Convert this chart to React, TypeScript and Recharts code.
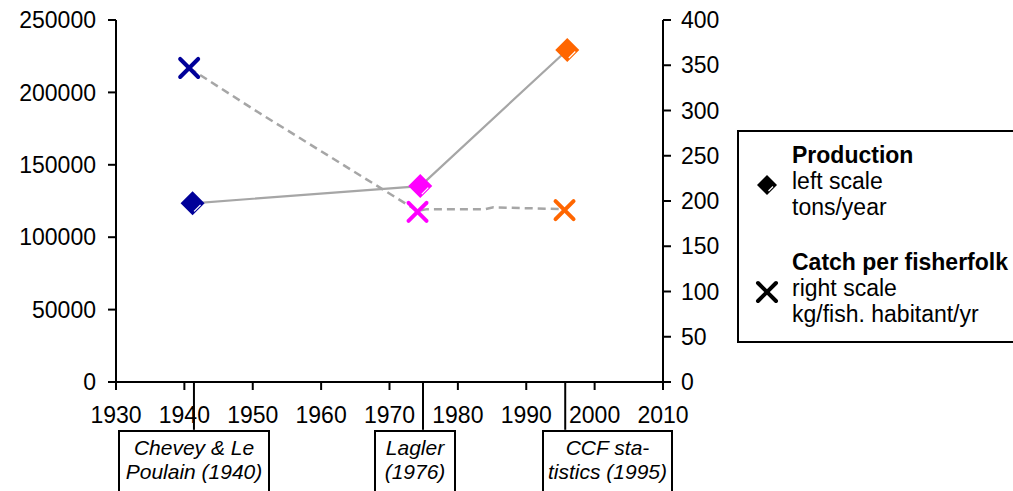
import { LineChart, Line, XAxis, YAxis, ReferenceLine } from 'recharts';

// x axis (years)
const yearTicks = [1930, 1940, 1950, 1960, 1970, 1980, 1990, 2000, 2010];
const leftTicks = [0, 50000, 100000, 150000, 200000, 250000];
const rightTicks = [0, 50, 100, 150, 200, 250, 300, 350, 400];

// Production (left scale, tons/year) - one point per source
const productionYears = [1941.2, 1974.5, 1996.0];
const productionTons = [123400, 135300, 229300];

// Catch per fisherfolk (right scale, kg/fish. habitant/yr)
const catchYears = [1940.7, 1974.1, 1995.6];
const catchKg = [347, 188, 190];

// dashed connecting line for catch, as drawn in the source figure
const trendYears = [1940.7, 1950.8, 1960, 1974.1, 1975.5, 1984, 1985.2, 1995.6];
const trendKg = [347, 298, 255, 189, 191, 191, 193, 191];

const pointColors = ['#000099', '#FF00FF', '#FF6600'];

// sources shown under the x axis
const sourceYears = [1941.4, 1974.9, 1995.7];
const sourceLabels = [
  ['Chevey & Le', 'Poulain (1940)'],
  ['Lagler', '(1976)'],
  ['CCF sta-', 'tistics (1995)'],
];

const legendItems = [
  { title: 'Production', lines: ['left scale', 'tons/year'], marker: 'diamond' },
  { title: 'Catch per fisherfolk', lines: ['right scale', 'kg/fish. habitant/yr'], marker: 'cross' },
];

const productionData = productionYears.map((year, i) => ({ year, tons: productionTons[i] }));
const catchData = catchYears.map((year, i) => ({ year, kg: catchKg[i] }));
const trendData = trendYears.map((year, i) => ({ year, kg: trendKg[i] }));

const FONT = '"Liberation Sans", Arial, sans-serif';
const LINE_GREY = '#a6a6a6';

const Diamond = ({ cx, cy, fill, r = 12 }: { cx: number; cy: number; fill: string; r?: number }) => (
  <g>
    <polygon points={`${cx},${cy - r} ${cx + r},${cy} ${cx},${cy + r} ${cx - r},${cy}`} fill={fill} />
    <line x1={cx + 1.5} y1={cy + r - 4} x2={cx + r - 4} y2={cy + 1.5} stroke="#fff" strokeWidth={1.2} />
  </g>
);

const Cross = ({ cx, cy, stroke }: { cx: number; cy: number; stroke: string }) => (
  <g stroke={stroke} strokeWidth={4} strokeLinecap="round">
    <line x1={cx - 9} y1={cy - 9} x2={cx + 9} y2={cy + 9} />
    <line x1={cx - 9} y1={cy + 9} x2={cx + 9} y2={cy - 9} />
  </g>
);

const LegendBox = () => (
  <div
    style={{
      position: 'absolute',
      left: 737,
      top: 130,
      border: '2px solid #000',
      width: 320,
      height: 213,
      boxSizing: 'border-box',
      fontFamily: FONT,
      fontSize: 23,
      color: '#000',
      paddingTop: 10,
      background: '#fff',
    }}
  >
    {legendItems.map((item, i) => (
      <div key={item.title} style={{ position: 'relative', paddingLeft: 53, marginBottom: i === 0 ? 29 : 0, lineHeight: '26px' }}>
        <svg width={30} height={30} style={{ position: 'absolute', left: 13, top: 28 }}>
          {item.marker === 'diamond' ? (
            <Diamond cx={15} cy={15} fill="#000" r={10} />
          ) : (
            <Cross cx={15} cy={15} stroke="#000" />
          )}
        </svg>
        <div style={{ fontWeight: 'bold' }}>{item.title}</div>
        {item.lines.map((l) => (
          <div key={l}>{l}</div>
        ))}
      </div>
    ))}
  </div>
);

export default function App() {
  return (
    <div
      style={{
        position: 'absolute',
        left: 0,
        top: 0,
        width: 1013,
        height: 491,
        overflow: 'hidden',
        background: '#fff',
        fontFamily: FONT,
      }}
    >
      <LineChart width={1013} height={491} margin={{ top: 20, right: 290, bottom: 0, left: 0 }}>
        <XAxis
          dataKey="year"
          type="number"
          domain={[1930, 2010]}
          ticks={yearTicks}
          allowDuplicatedCategory={false}
          height={109}
          tickSize={8}
          tickMargin={17}
          axisLine={{ stroke: '#000', strokeWidth: 2 }}
          tickLine={{ stroke: '#000', strokeWidth: 2 }}
          tick={{ fill: '#000', fontSize: 23, fontFamily: FONT }}
          interval={0}
        />
        <YAxis
          yAxisId="left"
          orientation="left"
          width={116}
          domain={[0, 250000]}
          ticks={leftTicks}
          tickSize={8}
          tickMargin={12}
          axisLine={{ stroke: '#000', strokeWidth: 2 }}
          tickLine={{ stroke: '#000', strokeWidth: 2 }}
          tick={{ fill: '#000', fontSize: 23, fontFamily: FONT }}
          interval={0}
        />
        <YAxis
          yAxisId="right"
          orientation="right"
          width={60}
          domain={[0, 400]}
          ticks={rightTicks}
          tickSize={8}
          tickMargin={10}
          axisLine={{ stroke: '#000', strokeWidth: 2 }}
          tickLine={{ stroke: '#000', strokeWidth: 2 }}
          tick={{ fill: '#000', fontSize: 23, fontFamily: FONT }}
          interval={0}
        />
        {sourceYears.map((yr) => (
          <ReferenceLine
            key={yr}
            yAxisId="left"
            ifOverflow="visible"
            segment={[
              { x: yr, y: 0 },
              { x: yr, y: -33000 },
            ]}
            stroke="#000"
            strokeWidth={2}
          />
        ))}
        <Line
          yAxisId="right"
          data={trendData}
          dataKey="kg"
          stroke={LINE_GREY}
          strokeWidth={2.5}
          strokeDasharray="8 5"
          dot={false}
          activeDot={false}
          isAnimationActive={false}
          legendType="none"
        />
        <Line
          yAxisId="left"
          data={productionData}
          dataKey="tons"
          name="Production"
          stroke={LINE_GREY}
          strokeWidth={2.2}
          dot={(p: any) => <Diamond key={`d${p.index}`} cx={p.cx} cy={p.cy} fill={pointColors[p.index]} />}
          activeDot={false}
          isAnimationActive={false}
        />
        <Line
          yAxisId="right"
          data={catchData}
          dataKey="kg"
          name="Catch per fisherfolk"
          stroke="none"
          dot={(p: any) => <Cross key={`c${p.index}`} cx={p.cx} cy={p.cy} stroke={pointColors[p.index]} />}
          activeDot={false}
          isAnimationActive={false}
        />
      </LineChart>
      <LegendBox />
      {sourceLabels.map((lines, i) => (
        <div
          key={i}
          style={{
            position: 'absolute',
            left: [118, 374, 542][i],
            width: [152, 82, 131][i],
            top: 430,
            height: 90,
            border: '2px solid #000',
            boxSizing: 'border-box',
            fontStyle: 'italic',
            fontSize: 21,
            lineHeight: '24px',
            textAlign: 'center',
            paddingTop: 4,
            background: '#fff',
          }}
        >
          {lines.map((l) => (
            <div key={l} style={{ whiteSpace: 'nowrap' }}>{l}</div>
          ))}
        </div>
      ))}
    </div>
  );
}
